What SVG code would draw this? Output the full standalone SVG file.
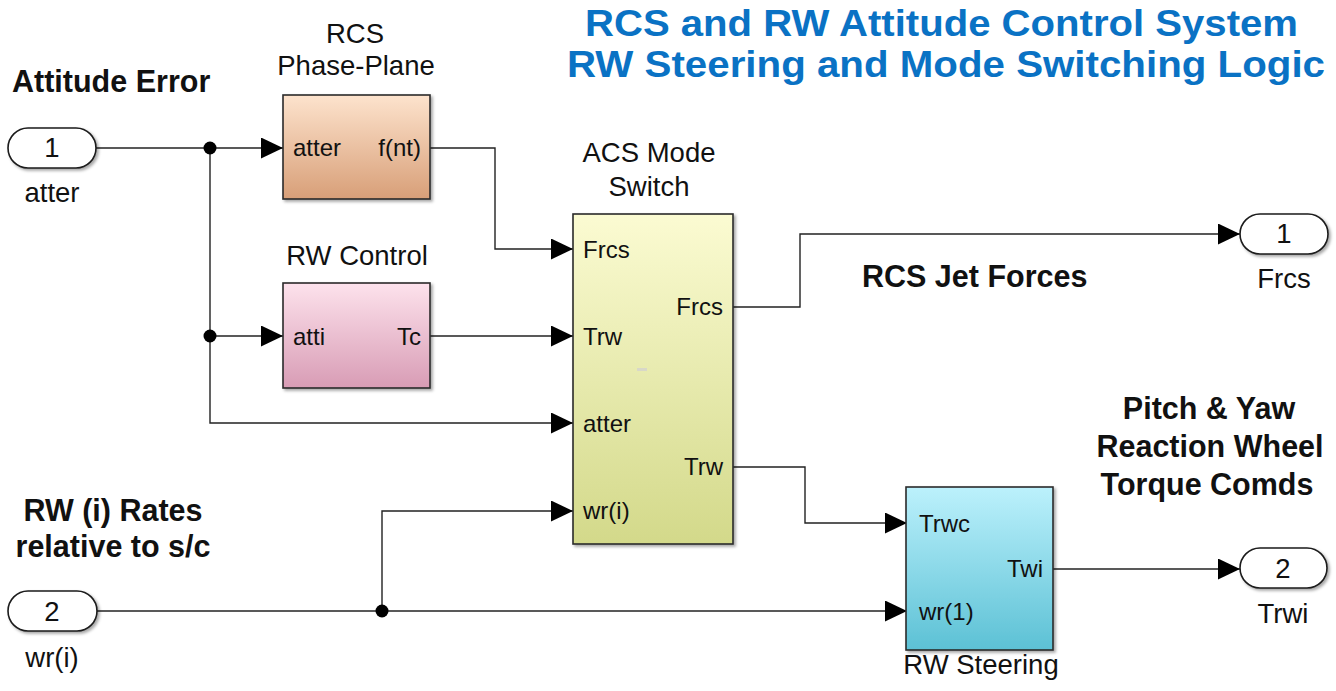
<svg xmlns="http://www.w3.org/2000/svg" width="1336" height="691" viewBox="0 0 1336 691">
<style>
text{font-family:"Liberation Sans",Arial,sans-serif;fill:#111}
.lbl{font-size:27.5px}
.port{font-size:24px}
.b{font-size:30.5px;font-weight:bold}
.title{font-size:37px;font-weight:bold;fill:#0a72c4}
.mid{text-anchor:middle}
.end{text-anchor:end}
.blk{stroke:#2a2a2a;stroke-width:1.6;filter:url(#sh)}
.pill{fill:#fff;stroke:#1a1a1a;stroke-width:1.6;filter:url(#sh)}
.wire{fill:none;stroke:#222;stroke-width:1.4}
.dot{fill:#000}
</style>
<defs>
<filter id="sh" x="-10%" y="-10%" width="130%" height="130%">
<feDropShadow dx="2" dy="2" stdDeviation="1.5" flood-color="#000" flood-opacity="0.35"/>
</filter>
<marker id="ar" markerWidth="22" markerHeight="22" refX="22" refY="10.5" orient="auto" markerUnits="userSpaceOnUse">
<path d="M0,0 L22,10.5 L0,21 Z" fill="#000"/>
</marker>
<linearGradient id="gRcs" x1="0" y1="0" x2="0" y2="1"><stop offset="0" stop-color="#fde3cd"/><stop offset="1" stop-color="#d89f78"/></linearGradient>
<linearGradient id="gRw" x1="0" y1="0" x2="0" y2="1"><stop offset="0" stop-color="#fde2ec"/><stop offset="1" stop-color="#d89cb5"/></linearGradient>
<linearGradient id="gAcs" x1="0" y1="0" x2="0" y2="1"><stop offset="0" stop-color="#fbfbd2"/><stop offset="1" stop-color="#d3d98a"/></linearGradient>
<linearGradient id="gSt" x1="0" y1="0" x2="0" y2="1"><stop offset="0" stop-color="#bcf1fc"/><stop offset="1" stop-color="#5cc1d5"/></linearGradient>
</defs>

<g id="title">
<text class="title" x="585" y="36" textLength="713" lengthAdjust="spacingAndGlyphs">RCS and RW Attitude Control System</text>
<text class="title" x="567" y="77" textLength="758" lengthAdjust="spacingAndGlyphs">RW Steering and Mode Switching Logic</text>
</g>

<g id="annotations">
<text class="b" x="12" y="92">Attitude Error</text>
<text class="b mid" x="113" y="521">RW (i) Rates</text>
<text class="b mid" x="113" y="557">relative to s/c</text>
<text class="b" x="862" y="287">RCS Jet Forces</text>
<text class="b mid" x="1209" y="419">Pitch &amp; Yaw</text>
<text class="b mid" x="1210" y="457">Reaction Wheel</text>
<text class="b mid" x="1207" y="495">Torque Comds</text>
</g>

<g id="connectors">
<path class="wire" d="M96,148 H283" marker-end="url(#ar)"/>
<path class="wire" d="M210,148 V423 H573" marker-end="url(#ar)"/>
<path class="wire" d="M210,336 H283" marker-end="url(#ar)"/>
<path class="wire" d="M430,148 H495 V249 H573" marker-end="url(#ar)"/>
<path class="wire" d="M430,336 H573" marker-end="url(#ar)"/>
<path class="wire" d="M733,307 H800 V234 H1240" marker-end="url(#ar)"/>
<path class="wire" d="M733,467 H805 V523 H907" marker-end="url(#ar)"/>
<path class="wire" d="M97,611 H907" marker-end="url(#ar)"/>
<path class="wire" d="M382,611 V511 H573" marker-end="url(#ar)"/>
<path class="wire" d="M1053,569 H1240" marker-end="url(#ar)"/>
<circle class="dot" cx="210" cy="148" r="6.5"/>
<circle class="dot" cx="210" cy="336" r="6.5"/>
<circle class="dot" cx="382" cy="611" r="6.5"/>
</g>

<g id="in1">
<rect class="pill" x="8" y="128" width="88" height="40" rx="20"/>
<text class="lbl mid" x="52" y="157">1</text>
<text class="lbl mid" x="52" y="202">atter</text>
</g>

<g id="in2">
<rect class="pill" x="8" y="591" width="89" height="40" rx="20"/>
<text class="lbl mid" x="52" y="621">2</text>
<text class="lbl mid" x="52" y="667">wr(i)</text>
</g>

<g id="rcs">
<text class="lbl mid" x="355" y="43">RCS</text>
<text class="lbl mid" x="356" y="75">Phase-Plane</text>
<rect class="blk" x="283" y="95" width="147" height="104" fill="url(#gRcs)"/>
<text class="port" x="293" y="156">atter</text>
<text class="port end" x="421" y="156">f(nt)</text>
</g>

<g id="rwcontrol">
<text class="lbl mid" x="357" y="265">RW Control</text>
<rect class="blk" x="283" y="283" width="147" height="105" fill="url(#gRw)"/>
<text class="port" x="293" y="345">atti</text>
<text class="port end" x="421" y="345">Tc</text>
</g>

<g id="acs">
<text class="lbl mid" x="649" y="162">ACS Mode</text>
<text class="lbl mid" x="649" y="196">Switch</text>
<rect class="blk" x="573" y="214" width="160" height="330" fill="url(#gAcs)"/>
<rect x="637" y="368" width="10" height="3" fill="#d8d8c8"/>
<text class="port" x="583" y="258">Frcs</text>
<text class="port" x="583" y="345">Trw</text>
<text class="port" x="583" y="432">atter</text>
<text class="port" x="583" y="519">wr(i)</text>
<text class="port end" x="723" y="315">Frcs</text>
<text class="port end" x="723" y="475">Trw</text>
</g>

<g id="rwsteer">
<rect class="blk" x="906" y="487" width="147" height="163" fill="url(#gSt)"/>
<text class="port" x="919" y="532">Trwc</text>
<text class="port" x="919" y="620">wr(1)</text>
<text class="port end" x="1043" y="577">Twi</text>
<text class="lbl mid" x="981" y="674">RW Steering</text>
</g>

<g id="out1">
<rect class="pill" x="1240" y="214" width="88" height="40" rx="20"/>
<text class="lbl mid" x="1284" y="243">1</text>
<text class="lbl mid" x="1284" y="288">Frcs</text>
</g>

<g id="out2">
<rect class="pill" x="1240" y="548" width="87" height="40" rx="20"/>
<text class="lbl mid" x="1283" y="578">2</text>
<text class="lbl mid" x="1283" y="623">Trwi</text>
</g>
</svg>
